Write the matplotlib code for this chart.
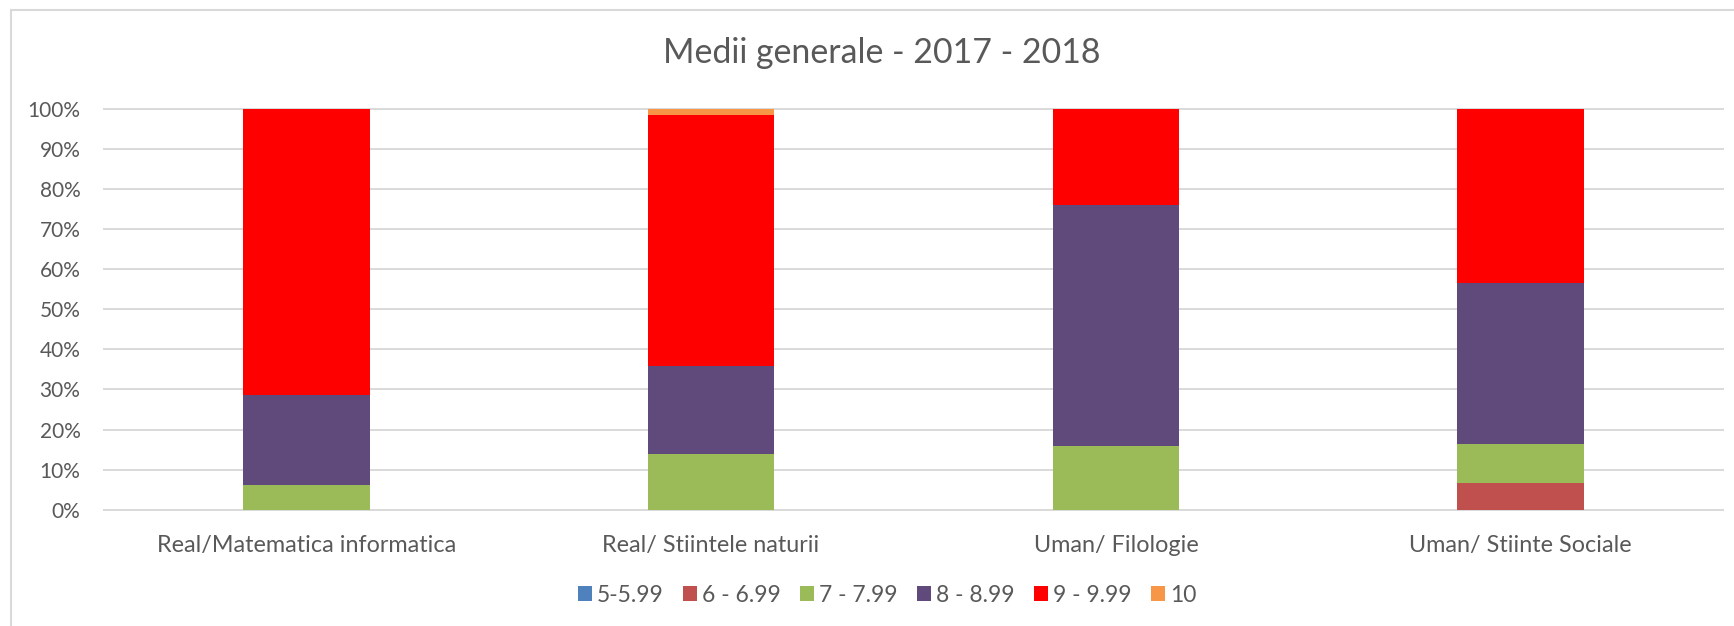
import matplotlib
matplotlib.use("Agg")
import matplotlib.pyplot as plt
from matplotlib.patches import Patch
from matplotlib.ticker import PercentFormatter
import numpy as np

categories = ["Real/Matematica informatica", "Real/ Stiintele naturii",
              "Uman/ Filologie", "Uman/ Stiinte Sociale"]
series_names = ["5-5.99", "6 - 6.99", "7 - 7.99", "8 - 8.99", "9 - 9.99", "10"]
s_5 = [0.0, 0.0, 0.0, 0.0]
s_6 = [0.0, 0.0, 0.0, 6.6]
s_7 = [6.1, 13.9, 15.9, 9.9]
s_8 = [22.6, 21.9, 60.1, 40.1]
s_9 = [71.3, 62.6, 24.0, 43.4]
s_10 = [0.0, 1.6, 0.0, 0.0]
colors = ["#4F81BD", "#C0504D", "#9BBB59", "#604A7B", "#FF0000", "#F79646"]

plt.rcParams['font.family'] = ['Lato', 'DejaVu Sans']
W, H = 1734, 626
fig = plt.figure(figsize=(W / 100, H / 100), dpi=100)
fig.patch.set_facecolor("white")

# outer chart border (left and top visible)
fig.add_artist(plt.Line2D([11 / W, 11 / W], [0, 1 - 10 / H], color="#D9D9D9", lw=1.5))
fig.add_artist(plt.Line2D([11 / W, 1], [1 - 10 / H, 1 - 10 / H], color="#D9D9D9", lw=1.5))

ax = fig.add_axes([104 / W, 1 - 509.7 / H, (1723 - 104) / W, (509.7 - 108.7) / H])
series = [s_5, s_6, s_7, s_8, s_9, s_10]
x = np.arange(len(categories))
bottom = np.zeros(len(categories))
for name, vals, c in zip(series_names, series, colors):
    v = np.array(vals) / 100.0
    ax.bar(x, v, 0.313, bottom=bottom, color=c, label=name, zorder=3, linewidth=0)
    bottom += v

ax.set_xlim(-0.5, len(categories) - 0.5)
ax.set_ylim(0, 1)
ax.set_yticks(np.arange(0, 1.01, 0.1))
ax.yaxis.set_major_formatter(PercentFormatter(1.0, decimals=0))
for y in np.arange(0, 1.01, 0.1):
    ax.axhline(y, color="#D9D9D9", lw=1.4, zorder=1, clip_on=False)
for s in ax.spines.values():
    s.set_visible(False)
ax.tick_params(axis="y", length=0, pad=17, labelsize=15, labelcolor="#595959")
ax.tick_params(axis="x", length=0, pad=18, labelsize=16.8, labelcolor="#595959")
ax.set_xticks(x)
ax.set_xticklabels(categories)

fig.text(882 / W, 1 - 53 / H, "Medii generale - 2017 - 2018",
         ha="center", va="center", fontsize=24.4, color="#595959")

handles = [Patch(facecolor=c, edgecolor="none") for c in colors]
fig.legend(handles, series_names, loc="center", bbox_to_anchor=(887 / W, 1 - 595 / H),
           ncol=6, frameon=False, fontsize=16.5, labelcolor="#595959",
           handlelength=0.61, handleheight=0.61, handletextpad=0.22, columnspacing=0.85)

fig.savefig("out.png", dpi=100, facecolor="white")
